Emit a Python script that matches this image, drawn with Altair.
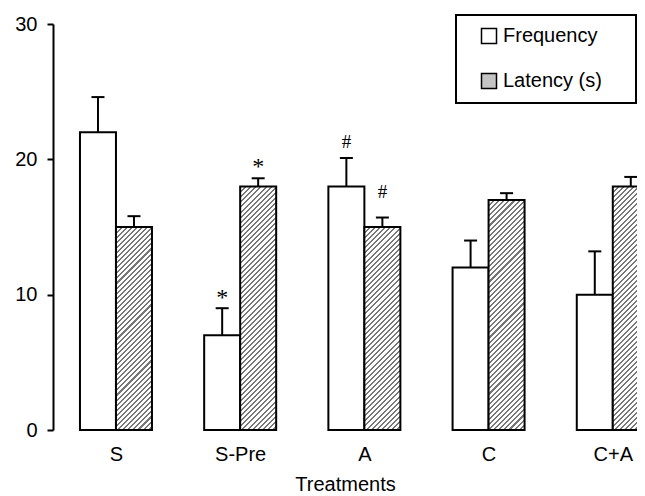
import json
import altair as alt
import pandas as pd

# ---------------- data ----------------
treatments = ["S", "S-Pre", "A", "C", "C+A"]
freq = [22, 7, 18, 12, 10]
freq_err = [2.6, 2.0, 2.1, 2.0, 3.2]
lat = [15, 18, 15, 17, 18]
lat_err = [0.8, 0.6, 0.7, 0.5, 0.7]
series_names = ["Frequency", "Latency (s)"]
y_ticks = [0, 10, 20, 30]

annot_treatment = ["S-Pre", "S-Pre", "A", "A"]
annot_series = ["Frequency", "Latency (s)", "Frequency", "Latency (s)"]
annot_text = ["*", "*", "#", "#"]
annot_y = [10.2, 19.9, 21.3, 17.6]

# ---------------- layout constants ----------------
PLOT_W, PLOT_H = 584, 406
Y_MAX = 30
X_DOMAIN = [-0.507, 4.195]
PX_PER_X = PLOT_W / (X_DOMAIN[1] - X_DOMAIN[0])
PX_PER_Y = PLOT_H / Y_MAX
BAR_PX = 36
BAR = BAR_PX / PX_PER_X
CAP = 6.5 / PX_PER_X
FONT = "Liberation Sans"
SERIF = "Liberation Serif"
DARK = "#787878"

rows = []
for i, t in enumerate(treatments):
    for s, v, e in ((series_names[0], freq[i], freq_err[i]), (series_names[1], lat[i], lat_err[i])):
        x0 = i - BAR if s == series_names[0] else i
        rows.append({"treatment": t, "series": s, "value": v, "err": e,
                     "x0": x0, "x1": x0 + BAR, "xc": x0 + BAR / 2,
                     "top": v + e, "c0": x0 + BAR / 2 - CAP, "c1": x0 + BAR / 2 + CAP})
df = pd.DataFrame(rows)

arows = []
for t, s, txt, y in zip(annot_treatment, annot_series, annot_text, annot_y):
    i = treatments.index(t)
    x0 = i - BAR if s == series_names[0] else i
    arows.append({"treatment": t, "series": s, "text": txt, "y": y, "xc": x0 + BAR / 2})
adf = pd.DataFrame(arows)

x_scale = alt.Scale(domain=X_DOMAIN, nice=False, zero=False)
y_scale = alt.Scale(domain=[0, Y_MAX], nice=False, zero=True)

x_axis = alt.Axis(
    values=list(range(len(treatments))),
    labelExpr=json.dumps(treatments) + "[datum.value]",
    title="Treatments", domain=False, ticks=False, grid=False,
    labelPadding=14, titlePadding=10, labelFlush=False, labelOverlap=False,
    labelBound=False,
)
y_axis = alt.Axis(
    values=y_ticks, title=None, grid=False, domainColor="black", domainWidth=2,
    tickColor="black", tickWidth=2, tickSize=6, labelPadding=10, format="d",
)


def hatch(value):
    w = BAR_PX
    h = value * PX_PER_Y
    r = h / w
    k = (1 + r) / (1 + r * r)
    D = (w + h) / 2 ** 0.5
    period = 3.6 / D
    on = period * 0.4
    stops = []
    t = 0.0
    while t < 1:
        a = min(t + on, 1.0)
        b = min(t + period, 1.0)
        stops += [{"offset": round(t, 5), "color": DARK},
                  {"offset": round(a, 5), "color": DARK},
                  {"offset": round(a, 5), "color": "white"},
                  {"offset": round(b, 5), "color": "white"}]
        t += period
    return {"gradient": "linear", "x1": 0, "y1": 0, "x2": k, "y2": k * r, "stops": stops}


base = alt.Chart(df)
X = alt.X("x0:Q", scale=x_scale, axis=x_axis)
Y = alt.Y("value:Q", scale=y_scale, axis=y_axis)

white = base.transform_filter(alt.datum.series == series_names[0]).mark_bar(
    stroke="black", strokeWidth=2
).encode(
    x=X, x2="x1:Q", y=Y, y2=alt.datum(0),
    fill=alt.Fill("series:N", scale=alt.Scale(domain=series_names, range=["white", "#c4c4c4"]),
                  legend=alt.Legend(
                      title=None, orient="none", legendX=403, legendY=-9, direction="vertical",
                      symbolType="square", symbolSize=225, symbolStrokeColor="black",
                      symbolStrokeWidth=1.5, labelFont=FONT, labelFontSize=20, labelColor="black",
                      labelOffset=4, rowPadding=23, padding=11, symbolOffset=12,
                      strokeColor="black", fillColor="white",
                      labelExpr="datum.label + '\u00a0\u00a0\u00a0\u00a0\u200b'")),
)

hatched_layers = []
for i, t in enumerate(treatments):
    hatched_layers.append(
        base.transform_filter((alt.datum.series == series_names[1]) & (alt.datum.treatment == t))
        .mark_bar(stroke="black", strokeWidth=2, fill=hatch(lat[i]))
        .encode(x=X, x2="x1:Q", y=Y, y2=alt.datum(0))
    )

err_line = base.mark_rule(color="black", strokeWidth=2).encode(
    x=alt.X("xc:Q", scale=x_scale, axis=x_axis),
    y=Y, y2="top:Q",
)
err_cap = base.mark_rule(color="black", strokeWidth=2).encode(
    x=alt.X("c0:Q", scale=x_scale, axis=x_axis), x2="c1:Q",
    y=alt.Y("top:Q", scale=y_scale, axis=y_axis),
)

abase = alt.Chart(adf)
star = abase.transform_filter(alt.datum.text == "*").mark_text(
    font=SERIF, fontSize=24, color="black", baseline="alphabetic", dy=13
).encode(
    x=alt.X("xc:Q", scale=x_scale, axis=x_axis),
    y=alt.Y("y:Q", scale=y_scale, axis=y_axis),
    text="text:N",
)
hashm = abase.transform_filter(alt.datum.text == "#").mark_text(
    font=SERIF, fontSize=19, color="black", baseline="alphabetic", dy=6
).encode(
    x=alt.X("xc:Q", scale=x_scale, axis=x_axis),
    y=alt.Y("y:Q", scale=y_scale, axis=y_axis),
    text="text:N",
)

chart = alt.layer(white, *hatched_layers, err_line, err_cap, star, hashm).properties(
    width=PLOT_W, height=PLOT_H,
    autosize=alt.AutoSizeParams(type="none"),
    padding={"left": 45, "top": 16, "right": 0, "bottom": 64},
    background="white",
).configure_view(stroke=None).configure_axis(
    labelFont=FONT, titleFont=FONT, labelColor="black", titleColor="black",
    labelFontSize=20, titleFontSize=20, titleFontWeight="normal",
).configure_legend(strokeWidth=2)

chart.save("out.html", embed_options={"renderer": "svg", "actions": False})
